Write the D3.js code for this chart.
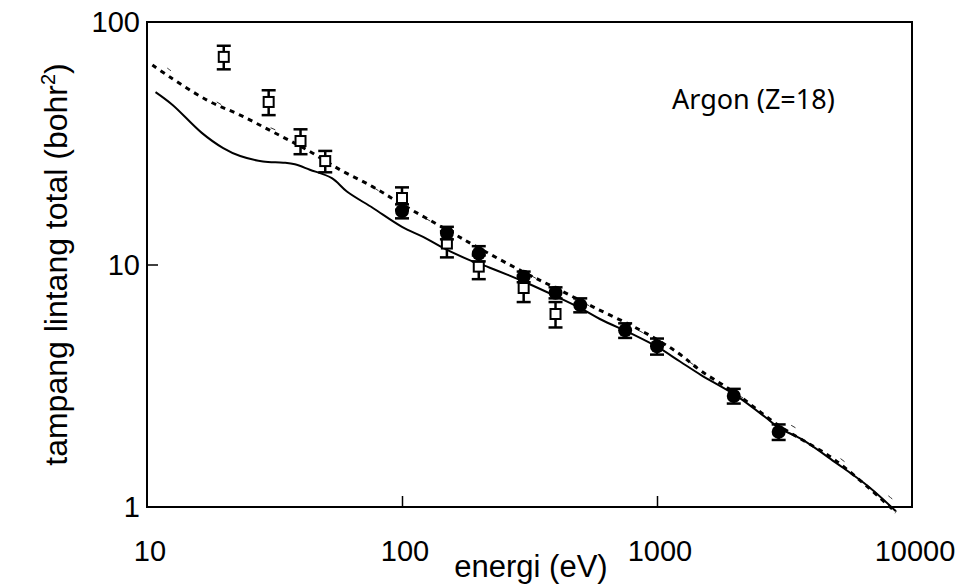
<!DOCTYPE html>
<html>
<head>
<meta charset="utf-8">
<script src="https://cdn.jsdelivr.net/npm/d3@7"></script>
<style>
  html, body { margin: 0; padding: 0; background: #fff; }
  svg { display: block; }
  .tick-label { font-family: "Liberation Sans", Arial, sans-serif; font-size: 29px; fill: #000; }
  .axis-title { font-family: "Liberation Sans", Arial, sans-serif; font-size: 31px; fill: #000; }
  .note { font-family: "Noto Sans", "Open Sans", sans-serif; font-size: 27px; fill: #000; }
</style>
</head>
<body>
<svg id="chart" width="965" height="584"></svg>
<script>
// tick values
const xTicks = [10, 100, 1000, 10000];
const yTicks = [1, 10, 100];

// theory curves: [energy eV, cross section bohr^2]
const solidCurve = [
  [10.8, 51.4], [12.6, 45.5], [16.4, 34.9], [19.9, 30.2], [23.2, 28.0],
  [28.5, 26.6], [34.2, 26.3], [38, 25.9], [43.5, 24.6], [53.1, 22.7],
  [60.8, 20.0], [76.9, 17.1], [100, 14.3], [121, 13.0], [143, 11.8],
  [185, 10.4], [221, 9.7], [260, 9.06], [309, 8.39], [391, 7.49],
  [499, 6.62], [597, 5.96], [805, 5.15], [1000, 4.58], [1231, 3.98],
  [1489, 3.5], [2024, 2.9], [2725, 2.3], [3000, 2.12], [3703, 1.9],
  [5038, 1.52], [6780, 1.21], [8650, 0.96]
];
const dottedCurve = [
  [10.5, 66.5], [12.3, 59.3], [17.2, 47.6], [23.2, 41.3], [31.2, 35.2],
  [42.4, 29.7], [57.1, 24.6], [76.9, 20.9], [100, 17.7], [150, 13.9],
  [200, 11.7], [300, 9.3], [400, 8.0], [561, 6.69], [857, 5.37],
  [1197, 4.35], [1489, 3.64], [2000, 2.98], [3000, 2.17], [5038, 1.55],
  [8650, 0.95]
];
const thinDashCurve = [
  [12, 64.6], [20, 45], [40, 32], [100, 17.6], [400, 7.95], [1000, 4.85],
  [2000, 2.97], [3980, 1.95], [5660, 1.49], [8650, 1.05]
];

// measurements: [energy, value, error]
const filledPoints = [
  [100, 16.6, 1.1], [150, 13.5, 0.8], [200, 11.1, 0.8], [300, 8.9, 0.45],
  [400, 7.65, 0.4], [500, 6.8, 0.45], [750, 5.35, 0.37], [1000, 4.6, 0.35],
  [2000, 2.87, 0.2], [3000, 2.04, 0.15]
];
const openPoints = [
  [20, 71.8, 8], [30, 46.8, 5.5], [40, 32.3, 3.8], [50, 26.7, 2.7],
  [100, 18.8, 2], [150, 12.2, 1.5], [200, 9.8, 1.1], [300, 8.0, 1.0],
  [400, 6.25, 0.75]
];

const plot = { left: 147, right: 912, top: 22, bottom: 507 };

const svg = d3.select("#chart");

const x = d3.scaleLog().domain([10, 10000]).range([plot.left, plot.right]);
const y = d3.scaleLog().domain([1, 100]).range([plot.bottom, plot.top]);

// frame
svg.append("rect")
  .attr("x", plot.left).attr("y", plot.top)
  .attr("width", plot.right - plot.left).attr("height", plot.bottom - plot.top)
  .attr("fill", "none").attr("stroke", "#000").attr("stroke-width", 2);

// inner ticks
const xAxis = svg.append("g")
  .attr("transform", `translate(0,${plot.bottom})`)
  .call(d3.axisTop(x).tickValues(xTicks.slice(1, -1)).tickSize(11).tickFormat(""));
const yAxis = svg.append("g")
  .attr("transform", `translate(${plot.left},0)`)
  .call(d3.axisRight(y).tickValues(yTicks.slice(1, -1)).tickSize(11).tickFormat(""));
[xAxis, yAxis].forEach(g => {
  g.select(".domain").remove();
  g.selectAll("line").attr("stroke", "#000").attr("stroke-width", 1.5);
});

// tick labels
svg.selectAll(".xlab").data(xTicks).enter().append("text")
  .attr("class", "tick-label")
  .attr("x", d => x(d) + 3).attr("y", 561)
  .attr("text-anchor", "middle")
  .text(d => d);
svg.selectAll(".ylab").data(yTicks).enter().append("text")
  .attr("class", "tick-label")
  .attr("x", 140).attr("y", d => y(d) + 10)
  .attr("text-anchor", "end")
  .text(d => d);

// titles
svg.append("text").attr("class", "axis-title")
  .attr("x", 531).attr("y", 577).attr("text-anchor", "middle")
  .text("energi (eV)");

const yt = svg.append("text").attr("class", "axis-title")
  .attr("transform", `translate(67,${(plot.top + plot.bottom) / 2}) rotate(-90)`)
  .attr("text-anchor", "middle")
  .style("font-size", "32px");
yt.append("tspan").text("tampang lintang total (bohr");
yt.append("tspan").attr("font-size", 20).attr("dy", -12).text("2");
yt.append("tspan").attr("dy", 12).text(")");

svg.append("text").attr("class", "note")
  .attr("x", 672).attr("y", 109)
  .text("Argon (Z=18)");

// curves
const line = d3.line()
  .x(d => x(d[0])).y(d => y(d[1]))
  .curve(d3.curveCatmullRom);

svg.append("path").datum(thinDashCurve)
  .attr("d", line).attr("fill", "none")
  .attr("stroke", "#333").attr("stroke-width", 1)
  .attr("stroke-dasharray", "5,55");
svg.append("path").datum(solidCurve)
  .attr("d", line).attr("fill", "none")
  .attr("stroke", "#000").attr("stroke-width", 2);
svg.append("path").datum(dottedCurve)
  .attr("d", line).attr("fill", "none")
  .attr("stroke", "#000").attr("stroke-width", 3)
  .attr("stroke-dasharray", "5,5");

// error bars
function errorBars(data) {
  const g = svg.append("g").attr("stroke", "#000").attr("stroke-width", 2.5);
  g.selectAll(".v").data(data).enter().append("line")
    .attr("x1", d => x(d[0])).attr("x2", d => x(d[0]))
    .attr("y1", d => y(d[1] + d[2])).attr("y2", d => y(d[1] - d[2]));
  g.selectAll(".t").data(data).enter().append("line")
    .attr("x1", d => x(d[0]) - 7).attr("x2", d => x(d[0]) + 7)
    .attr("y1", d => y(d[1] + d[2])).attr("y2", d => y(d[1] + d[2]));
  g.selectAll(".b").data(data).enter().append("line")
    .attr("x1", d => x(d[0]) - 7).attr("x2", d => x(d[0]) + 7)
    .attr("y1", d => y(d[1] - d[2])).attr("y2", d => y(d[1] - d[2]));
}

errorBars(openPoints);
svg.append("g").selectAll("rect").data(openPoints).enter().append("rect")
  .attr("x", d => x(d[0]) - 5).attr("y", d => y(d[1]) - 5)
  .attr("width", 10).attr("height", 10)
  .attr("fill", "#fff").attr("stroke", "#000").attr("stroke-width", 2);

errorBars(filledPoints);
svg.append("g").selectAll("circle").data(filledPoints).enter().append("circle")
  .attr("cx", d => x(d[0])).attr("cy", d => y(d[1]))
  .attr("r", 7).attr("fill", "#000");
</script>
</body>
</html>
